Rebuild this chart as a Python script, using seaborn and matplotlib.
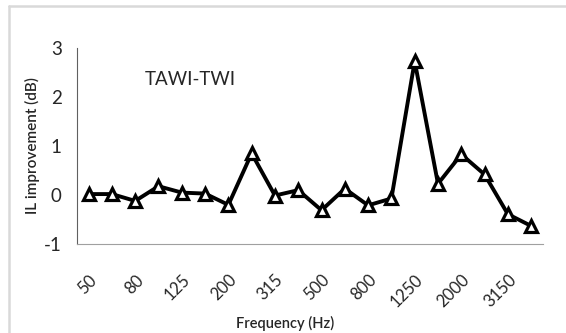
import numpy as np
import pandas as pd
import matplotlib
matplotlib.use("Agg")
import matplotlib.pyplot as plt
import seaborn as sns
from matplotlib.lines import Line2D

# third-octave band centres and IL improvement
freqs = ["50", "63", "80", "100", "125", "160", "200", "250", "315", "400",
         "500", "630", "800", "1000", "1250", "1600", "2000", "2500", "3150", "4000"]
il_gain = [0.02, 0.02, -0.12, 0.18, 0.05, 0.03, -0.2, 0.85, -0.01, 0.1,
           -0.31, 0.13, -0.21, -0.07, 2.73, 0.23, 0.83, 0.42, -0.39, -0.63]
shown_ticks = ["50", "80", "125", "200", "315", "500", "800", "1250", "2000", "3150"]

df = pd.DataFrame({"pos": np.arange(len(freqs)), "freq": freqs, "il": il_gain})

sns.set_style("white")
plt.rcParams["font.family"] = ["Lato", "DejaVu Sans"]

fig = plt.figure(figsize=(5.66, 3.33), dpi=100)
ax = fig.add_axes([0.136, 0.267, 0.823, 0.589])

# light grey frame (top and left edges only visible)
fx, fy = 9 / 566, 1 - 6 / 333
fig.add_artist(Line2D([fx, 1.0], [fy, fy], transform=fig.transFigure, color="#d9d9d9", lw=1.8))
fig.add_artist(Line2D([fx, fx], [0.0, fy], transform=fig.transFigure, color="#d9d9d9", lw=1.8))

sns.lineplot(data=df, x="pos", y="il", ax=ax, color="black", linewidth=2.8,
             marker="^", markersize=8.5, markerfacecolor="white",
             markeredgecolor="black", markeredgewidth=2.3, sort=False)

ax.set_xlim(-0.5, len(freqs) - 0.5)
ax.set_ylim(-1, 3)
ax.set_yticks([-1, 0, 1, 2, 3])
ax.set_yticklabels(["-1", "0", "1", "2", "3"], fontsize=13.5)

# tick marks between categories, labels on every other category
ax.set_xticks(np.arange(-0.5, len(freqs), 1.0), minor=True)
label_pos = [i for i, f in enumerate(freqs) if f in shown_ticks]
ax.set_xticks(label_pos)
ax.set_xticklabels(shown_ticks, fontsize=12)
plt.setp(ax.get_xticklabels(), rotation=45, ha="right", rotation_mode="anchor")
ax.tick_params(axis="x", which="minor", direction="out", length=6, color="#a0a0a0", width=1)
ax.tick_params(axis="x", which="major", length=0, pad=20)
ax.tick_params(axis="y", direction="out", length=5, color="#606060", width=1, pad=6)

for side in ["top", "right"]:
    ax.spines[side].set_visible(False)
ax.spines["left"].set_color("#606060")
ax.spines["bottom"].set_color("#a0a0a0")

ax.set_xlabel("Frequency (Hz)", fontsize=10.5, fontweight="semibold")
ax.xaxis.set_label_coords(0.447, -0.365)
ax.set_ylabel("IL improvement (dB)", fontsize=11, fontweight="semibold")
ax.yaxis.set_label_coords(-0.08, 0.5)

ax.text(0.146, 0.81, "TAWI-TWI", transform=ax.transAxes, fontsize=13.5)

fig.savefig("out.png", dpi=100)
